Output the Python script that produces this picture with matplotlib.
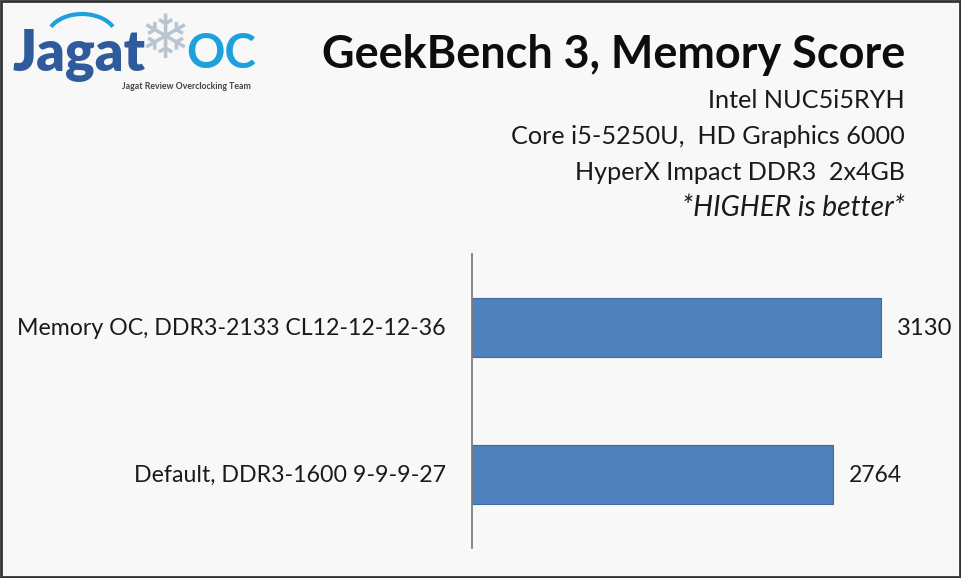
import matplotlib
matplotlib.use("Agg")
import matplotlib.pyplot as plt
from matplotlib.patches import Arc, Rectangle

# ---- data ----
categories = ["Default, DDR3-1600 9-9-9-27", "Memory OC, DDR3-2133 CL12-12-12-36"]
scores = [2764, 3130]
title = "GeekBench 3, Memory Score"
subtitle_lines = ["Intel NUC5i5RYH", "Core i5-5250U,  HD Graphics 6000",
                  "HyperX Impact DDR3  2x4GB"]
note = "*HIGHER is better*"

W, H, DPI = 962, 578, 100
BG = "#f9f8f8"
BAR = "#4f81bd"
EDGE = "#3f6a9c"
FONT = ["Lato", "DejaVu Sans"]

fig = plt.figure(figsize=(W / DPI, H / DPI), dpi=DPI, facecolor=BG)
renderer = fig.canvas.get_renderer()


def px(x, y):
    return x / W, 1 - y / H


def fit_text(x, y, s, width_px, ha, va="center", start=20, **kw):
    t = fig.text(*px(x, y), s, ha=ha, va=va, fontsize=start, family=FONT, **kw)
    w = t.get_window_extent(renderer).width
    t.set_fontsize(start * width_px / w)
    return t


# axes
ax = fig.add_axes([472 / W, 1 - 548 / H, (940 - 472) / W, (548 - 254) / H])
ax.set_facecolor(BG)
ypos = list(range(len(categories)))
ax.barh(ypos, scores, height=0.40, color=BAR, edgecolor=EDGE, linewidth=0.8)
ax.set_xlim(0, 3130 * (940 - 472) / 409)
ax.set_ylim(-0.5, len(categories) - 0.5)
for s in ["top", "right", "bottom"]:
    ax.spines[s].set_visible(False)
ax.spines["left"].set_color("#7f7f7f")
ax.spines["left"].set_linewidth(1.3)
ax.set_xticks([])
ax.set_yticks(ypos)
ax.set_yticklabels([])
ax.tick_params(axis="y", length=0)

# category labels (fit to measured widths)
cat_widths = [446 - 135, 446 - 18]
for yv, lab, wpx in zip(ypos, categories, cat_widths):
    ydisp = ax.transData.transform((0, yv))[1]
    ypx = H - ydisp
    fit_text(446, ypx + 1, lab, wpx, ha="right", color="#1a1a1a")

# value labels
val_widths = [905 - 852, 952 - 897]
for yv, v, wpx in zip(ypos, scores, val_widths):
    xd, yd = ax.transData.transform((v, yv))
    fit_text(xd + 16, H - yd + 1, f"{v}", wpx, ha="left", color="#1a1a1a")

# title and subtitles
fit_text(905, 55, title, 905 - 322, ha="right", fontweight="bold", color="#0d0d0d")
sub_w = [905 - 708, 905 - 511, 905 - 575]
sub_y = [100, 136, 172]
for s, wv, yv in zip(subtitle_lines, sub_w, sub_y):
    fit_text(905, yv, s, wv, ha="right", color="#1a1a1a")
fit_text(905, 208, note, 905 - 682, ha="right", style="italic", color="#1a1a1a")

# logo
fit_text(12, 56, "Jagat", 145 - 12, ha="left", fontweight="heavy", color="#2f5a9c")
fit_text(186, 54, "OC", 256 - 186, ha="left", color="#1da1dc", fontweight="bold")
fig.text(*px(165, 42), "\u2744", ha="center", va="center", fontsize=44,
         family="DejaVu Sans", color="#b9c6d2")
arc_ax = fig.add_axes([0, 0, 1, 1], facecolor="none")
arc_ax.set_xlim(0, W)
arc_ax.set_ylim(H, 0)
arc_ax.axis("off")
arc_ax.add_patch(Arc((82, 38), 70, 48, theta1=200, theta2=340, color="#1da1dc", lw=3))
fit_text(122, 86, "Jagat Review Overclocking Team", 252 - 122, ha="left",
         color="#444444", fontweight="bold")

# figure frame
arc_ax.add_patch(Rectangle((0.5, 0.5), W - 2, H - 2, fill=False, ec="#333333", lw=2))

fig.savefig("out.png", dpi=DPI, facecolor=BG)
